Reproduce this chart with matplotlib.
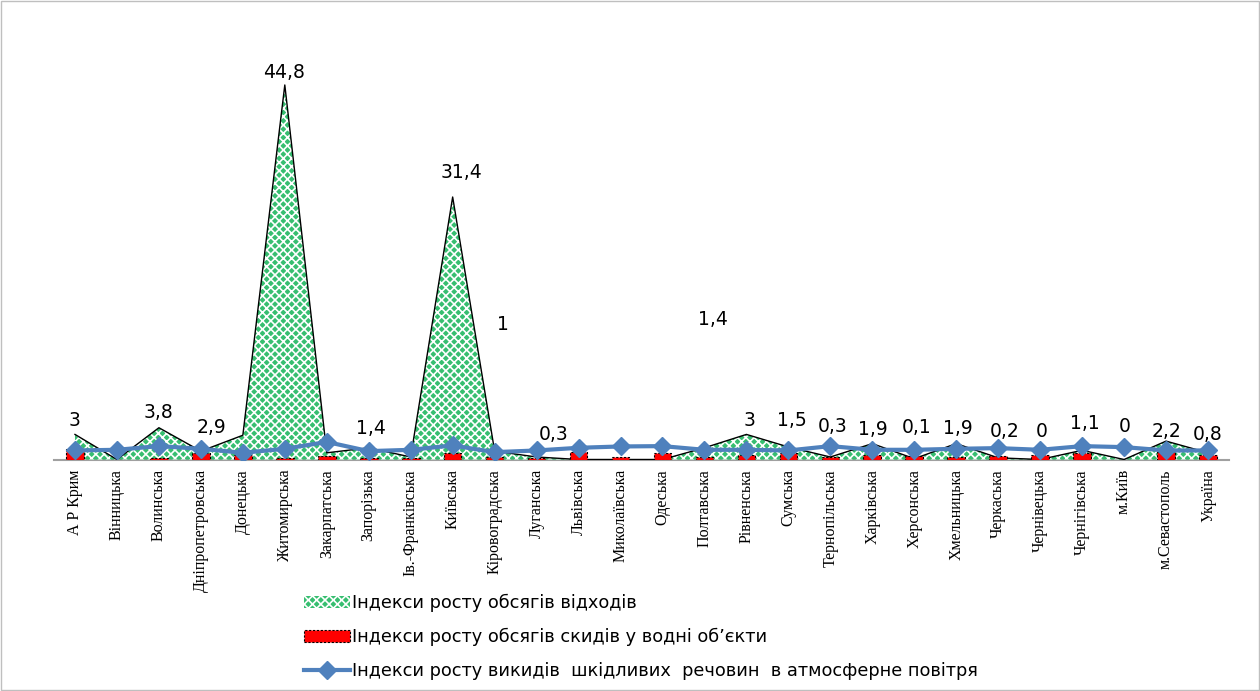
import matplotlib
matplotlib.use("Agg")
import matplotlib.pyplot as plt
from matplotlib.patches import Patch, Rectangle
from matplotlib.lines import Line2D
import numpy as np

categories = ["А Р Крим", "Вінницька", "Волинська", "Дніпропетровська", "Донецька",
              "Житомирська", "Закарпатська", "Запорізька", "Ів.-Франківська", "Київська",
              "Кіровоградська", "Луганська", "Львівська", "Миколаївська", "Одеська",
              "Полтавська", "Рівненська", "Сумська", "Тернопільська", "Харківська",
              "Херсонська", "Хмельницька", "Черкаська", "Чернівецька", "Чернігівська",
              "м.Київ", "м.Севастополь", "Україна"]

# Індекси росту обсягів відходів (area)
waste = [3.0, 0.0, 3.8, 1.0, 2.9, 44.8, 0.8, 1.4, 0.3, 31.4,
         1.0, 0.3, 0.0, 0.0, 0.0, 1.4, 3.0, 1.5, 0.3, 1.9,
         0.1, 1.9, 0.2, 0.0, 1.1, 0.0, 2.2, 0.8]

# Індекси росту обсягів скидів у водні об'єкти (bars)
water = [1.3, 0.0, 0.2, 0.75, 0.55, 0.2, 0.45, 0.15, 0.15, 0.75,
         0.35, 0.15, 0.95, 0.35, 0.75, 0.3, 0.55, 0.8, 0.35, 0.55,
         0.45, 0.3, 0.45, 0.55, 0.8, 0.0, 0.95, 0.55]

# Індекси росту викидів шкідливих речовин в атмосферне повітря (line)
air = [1.08, 1.16, 1.6, 1.28, 0.8, 1.28, 2.1, 1.0, 1.16, 1.68,
       0.88, 1.08, 1.4, 1.56, 1.6, 1.16, 1.16, 1.08, 1.6, 1.16,
       1.16, 1.28, 1.36, 1.16, 1.6, 1.48, 1.08, 1.08]

# Data labels of the waste series: text, category index, x shift, label height
label_text = ["3", "3,8", "2,9", "44,8", "1,4", "31,4", "1", "0,3", "1,4", "3", "1,5",
              "0,3", "1,9", "0,1", "1,9", "0,2", "0", "1,1", "0", "2,2", "0,8"]
label_idx = [0, 2, 4, 5, 7, 9, 10, 11, 15, 16, 17, 18, 19, 20, 21, 22, 23, 24, 25, 26, 27]
label_dx = [0, 0, -0.75, -0.03, 0.05, 0.2, 0.2, 0.4, 0.2, 0.07, 0.08,
            0.06, 0.02, 0.06, 0.05, 0.16, 0.04, 0.07, 0.02, 0.0, 0.0]
label_y = [4.64, 5.65, 3.85, 46.3, 3.65, 34.35, 16.1, 3.05, 16.7, 4.72, 4.64,
           3.93, 3.53, 3.85, 3.73, 3.33, 3.29, 4.25, 4.0, 3.33, 3.0]

legend_labels = ["Індекси росту обсягів відходів",
                 "Індекси росту обсягів скидів у водні об’єкти",
                 "Індекси росту викидів  шкідливих  речовин  в атмосферне повітря"]

GREEN = "#37BE70"
RED = "#FF0000"
BLUE = "#4F81BD"

plt.rcParams["hatch.linewidth"] = 1.2

fig = plt.figure(figsize=(12.6, 6.91), dpi=100)
ax = fig.add_axes([54 / 1260, 1 - 459.5 / 691, (1229 - 54) / 1260, (459.5 - 41.5) / 691])

x = np.arange(len(categories))
ax.fill_between(x, 0, waste, facecolor=GREEN, edgecolor="white", hatch="xxxx",
                linewidth=0, zorder=1)
ax.plot(x, waste, color="black", lw=1.0, zorder=2)

ax.bar(x, water, width=0.42, color=RED, edgecolor="black", linestyle=(0, (2, 1.5)),
       linewidth=0.8, zorder=3)

ax.plot(x, air, color=BLUE, lw=3, marker="D", markersize=9, zorder=4)

for t, i, dx, yy in zip(label_text, label_idx, label_dx, label_y):
    ax.text(i + dx, yy, t, ha="center", va="center", fontsize=13.5,
            family="DejaVu Sans", color="black", zorder=5)

ax.set_xlim(-0.5, len(categories) - 0.5)
ax.set_ylim(0, 50)
ax.set_xticks(x)
ax.set_xticklabels(categories, rotation=90, family="Liberation Serif", fontsize=11.5)
ax.tick_params(axis="x", length=0, pad=7)
ax.set_yticks([])
for s in ["top", "right", "left"]:
    ax.spines[s].set_visible(False)
ax.spines["bottom"].set_color("#A0A0A0")
ax.spines["bottom"].set_linewidth(1.5)
ax.spines["bottom"].set_zorder(0.5)

handles = [
    Patch(facecolor=GREEN, edgecolor="white", hatch="xxxx", linewidth=0),
    Patch(facecolor=RED, edgecolor="black", linestyle=(0, (2, 1.5)), linewidth=0.8),
    Line2D([], [], color=BLUE, lw=3, marker="D", markersize=9),
]
fig.legend(handles, legend_labels, loc="upper left",
           bbox_to_anchor=(288 / 1260, 1 - 578 / 691), frameon=False,
           handlelength=2.6, handletextpad=0.1, labelspacing=0.88,
           prop={"family": "DejaVu Sans", "size": 12.8})

fig.patches.append(Rectangle((0.001, 0.001), 0.998, 0.998, transform=fig.transFigure,
                             fill=False, edgecolor="#BFBFBF", linewidth=1))

fig.savefig("out.png", dpi=100)
